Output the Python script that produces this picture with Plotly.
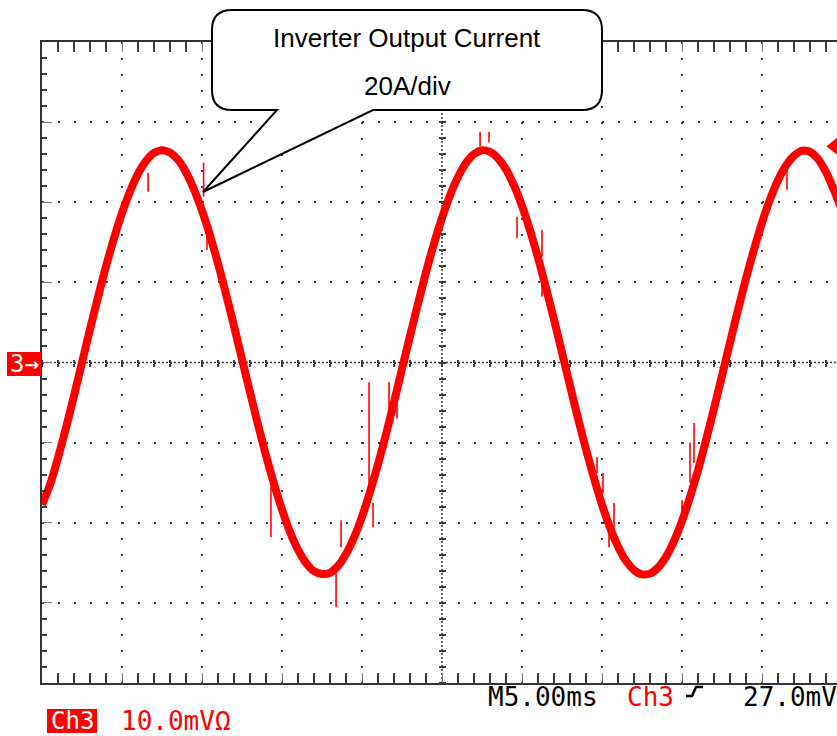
import plotly.graph_objects as go

# ---------------- data ----------------
# Channel 3 (inverter output current), sampled every 0.5 ms, in amperes (20 A/div)
current_A = [
    -35.5, -30.5, -23.8, -16.3, -8.3, 0.0, 8.3, 16.3, 24.0, 31.0,
    37.3, 42.7, 47.1, 50.3, 52.3, 53.0, 52.4, 50.6, 47.5, 43.2,
    37.9, 31.7, 24.7, 17.1, 9.1, 0.8, -7.4, -15.5, -23.2, -30.3,
    -36.7, -42.3, -46.7, -50.0, -52.1, -52.8, -52.5, -50.8, -47.8, -43.7,
    -38.5, -32.3, -25.4, -17.9, -9.9, -1.6, 6.6, 14.7, 22.5, 29.7,
    36.1, 41.7, 46.3, 49.8, 52.0, 53.0, 52.6, 51.0, 48.2, 44.2,
    39.1, 33.0, 26.2, 18.6, 10.7, 2.5, -5.8, -13.9, -21.7, -28.9,
    -35.5, -41.2, -45.9, -49.5, -51.8, -52.9, -52.7, -51.2, -48.5, -44.6,
    -39.6, -33.6, -26.9, -19.4, -11.5, -3.3, 5.0, 13.1, 21.0, 28.2,
    34.9, 40.7, 45.5, 49.2, 51.6, 52.9, 52.6, 50.8, 47.5, 43.0,
    38.0,
]
sample_interval_ms = 0.5
time_ms = [i * sample_interval_ms for i in range(len(current_A))]

# switching-noise spikes (time, top, bottom)
spike_time_ms = [6.63, 10.1, 10.31, 14.31, 18.38, 18.69, 20.44, 20.69, 21.69, 22.19,
                 27.38, 27.94, 29.69, 31.25, 31.25, 34.69, 35.06, 35.44, 35.75,
                 40.0, 40.5, 40.75, 46.56]
spike_high_A = [47.4, 49.9, 32.4, -31.1, -52.6, -39.4, -4.9, -35.1, -4.9, -8.0,
                57.6, 57.6, 36.4, 33.1, 20.6, -23.6, -27.6, -41.1, -35.1,
                -34.4, -20.0, -15.1, 48.1]
spike_low_A = [42.6, 41.4, 28.1, -43.6, -61.1, -46.1, -36.1, -41.1, -12.6, -14.0,
               54.0, 54.9, 31.1, 26.4, 16.4, -27.6, -32.6, -46.1, -41.1,
               -38.6, -30.0, -25.1, 43.1]

timebase_ms_per_div = 5.0
ch3_mV_per_div = 10.0
current_A_per_div = 20.0
trigger_level_mV = 27.0
trigger_level_A = trigger_level_mV / ch3_mV_per_div * current_A_per_div

callout_lines = ["Inverter Output Current", "20A/div"]
readout_timebase = "M5.00ms"
readout_channel = "Ch3"
readout_trigger = "27.0mV"
readout_scale = "10.0mV\u03a9"
channel_marker = "3\u2192"

# ---------------- layout geometry ----------------
W, H = 837, 736
L, T = 42, 42
PW, PH = 795, 641
X_MAX = PW / 80.0 * timebase_ms_per_div      # visible part of the 10-div screen
Y_MAX = 4 * current_A_per_div
X_CENTER = 5 * timebase_ms_per_div


def px(x):
    return (x - L) / PW


def py(y):
    return (T + PH - y) / PH


RED = "#ff0000"
GRID = "#3c3c3c"
MONO = "DejaVu Sans Mono"

fig = go.Figure()

fig.add_trace(go.Scatter(
    x=time_ms, y=current_A, mode="lines",
    line=dict(color=RED, width=8, shape="spline", smoothing=0.6),
    hoverinfo="skip", showlegend=False))

sx, sy = [], []
for t, hi, lo in zip(spike_time_ms, spike_high_A, spike_low_A):
    sx += [t, t, None]
    sy += [hi, lo, None]
fig.add_trace(go.Scatter(x=sx, y=sy, mode="lines", line=dict(color=RED, width=1.6),
                         hoverinfo="skip", showlegend=False))

# trigger level marker
fig.add_trace(go.Scatter(x=[X_MAX - 0.2], y=[trigger_level_A], mode="markers",
                         marker=dict(symbol="triangle-left", size=15, color=RED),
                         cliponaxis=False, hoverinfo="skip", showlegend=False))

# empty traces so that the centre tick axes are drawn
for xa, ya in [("x2", "y"), ("x3", "y"), ("x", "y2"), ("x", "y3")]:
    fig.add_trace(go.Scatter(x=[None], y=[None], xaxis=xa, yaxis=ya,
                             showlegend=False, hoverinfo="skip"))

base_axis = dict(showticklabels=False, zeroline=False, fixedrange=True)

xaxis = dict(base_axis, range=[0, X_MAX], tick0=0, dtick=timebase_ms_per_div,
             showgrid=True, gridcolor=GRID, gridwidth=1.5, griddash="2px,14px",
             showline=True, linecolor="#333333", linewidth=2, mirror="allticks",
             ticks="inside", ticklen=10, tickwidth=1, tickcolor="#777777",
             minor=dict(dtick=timebase_ms_per_div / 5, ticks="inside", ticklen=3,
                        tickwidth=1.5, tickcolor=GRID, showgrid=False))
yaxis = dict(base_axis, range=[-Y_MAX, Y_MAX], tick0=0, dtick=current_A_per_div,
             showgrid=True, gridcolor=GRID, gridwidth=1.5, griddash="2px,14px",
             showline=True, linecolor="#333333", linewidth=2, mirror=False,
             ticks="inside", ticklen=10, tickwidth=1, tickcolor="#777777",
             minor=dict(dtick=current_A_per_div / 5, ticks="inside", ticklen=5,
                        tickwidth=1.5, tickcolor=GRID, showgrid=False))

centre_x = dict(base_axis, overlaying="x", anchor="free", position=0.5,
                range=[0, X_MAX], tick0=0, dtick=timebase_ms_per_div / 5,
                ticks="outside", ticklen=3, tickwidth=1.5, tickcolor=GRID,
                showgrid=False, showline=False)
centre_y = dict(base_axis, overlaying="y", anchor="free", position=X_CENTER / X_MAX,
                range=[-Y_MAX, Y_MAX], tick0=0, dtick=current_A_per_div / 5,
                ticks="outside", ticklen=3, tickwidth=1.5, tickcolor=GRID,
                showgrid=False, showline=False)

shapes = [
    dict(type="line", xref="paper", yref="y", x0=0, x1=1, y0=0, y1=0,
         line=dict(color=GRID, width=1.5, dash="2px,2px"), layer="below"),
    dict(type="line", xref="x", yref="paper", x0=X_CENTER, x1=X_CENTER, y0=0, y1=1,
         line=dict(color=GRID, width=1.5, dash="2px,2px"), layer="below"),
]

# callout balloon (pixel geometry converted to paper units)
def P(x, y):
    return f"{px(x):.5f},{py(y):.5f}"

bx0, by0, bx1, by1, r = 212, 10, 602, 110, 20
path = (f"M{P(bx0 + r, by0)} L{P(bx1 - r, by0)} Q{P(bx1, by0)} {P(bx1, by0 + r)} "
        f"L{P(bx1, by1 - r)} Q{P(bx1, by1)} {P(bx1 - r, by1)} "
        f"L{P(373, by1)} L{P(203, 192)} L{P(277, by1)} "
        f"L{P(bx0 + r, by1)} Q{P(bx0, by1)} {P(bx0, by1 - r)} "
        f"L{P(bx0, by0 + r)} Q{P(bx0, by0)} {P(bx0 + r, by0)} Z")
shapes.append(dict(type="path", xref="paper", yref="paper", path=path,
                   fillcolor="white", line=dict(color="black", width=2), layer="above"))

# red label boxes
shapes.append(dict(type="rect", xref="paper", yref="paper",
                   x0=px(7), x1=px(41), y0=py(376), y1=py(352),
                   fillcolor=RED, line=dict(width=0), layer="above"))
shapes.append(dict(type="rect", xref="paper", yref="paper",
                   x0=px(47), x1=px(97), y0=py(733), y1=py(709),
                   fillcolor=RED, line=dict(width=0), layer="above"))
# trigger slope symbol
shapes.append(dict(type="path", xref="paper", yref="paper",
                   path=f"M{P(686, 696)} L{P(692, 696)} L{P(696, 687)} L{P(703, 687)}",
                   line=dict(color="black", width=2.5), layer="above"))

ann = []


def text(x, y, s, size, color, family, xanchor="left"):
    ann.append(dict(x=px(x), y=py(y), xref="paper", yref="paper", text=s,
                    showarrow=False, xanchor=xanchor, yanchor="middle",
                    font=dict(size=size, color=color, family=family)))


text(407, 38, callout_lines[0], 26, "black", "Liberation Sans, Arial", "center")
text(407, 86, callout_lines[1], 26, "black", "Liberation Sans, Arial", "center")
text(24, 364, channel_marker, 24, "white", MONO, "center")
text(486, 697, readout_timebase, 26, "black", MONO)
text(625, 697, readout_channel, 26, RED, MONO)
text(741, 697, readout_trigger, 26, "black", MONO)
text(72, 721, readout_channel, 24, "white", MONO, "center")
text(119, 721, readout_scale, 26, RED, MONO)

fig.update_layout(
    width=W, height=H, autosize=False,
    margin=dict(l=L, r=W - L - PW, t=T, b=H - T - PH, pad=0),
    paper_bgcolor="white", plot_bgcolor="white",
    showlegend=False,
    xaxis=xaxis, yaxis=yaxis,
    xaxis2=dict(centre_x, side="bottom"), xaxis3=dict(centre_x, side="top"),
    yaxis2=dict(centre_y, side="left"), yaxis3=dict(centre_y, side="right"),
    shapes=shapes, annotations=ann,
)

fig.write_html("out.html", config={"displayModeBar": False},
               post_script="document.body.style.margin='0px';document.body.style.padding='0px';")
